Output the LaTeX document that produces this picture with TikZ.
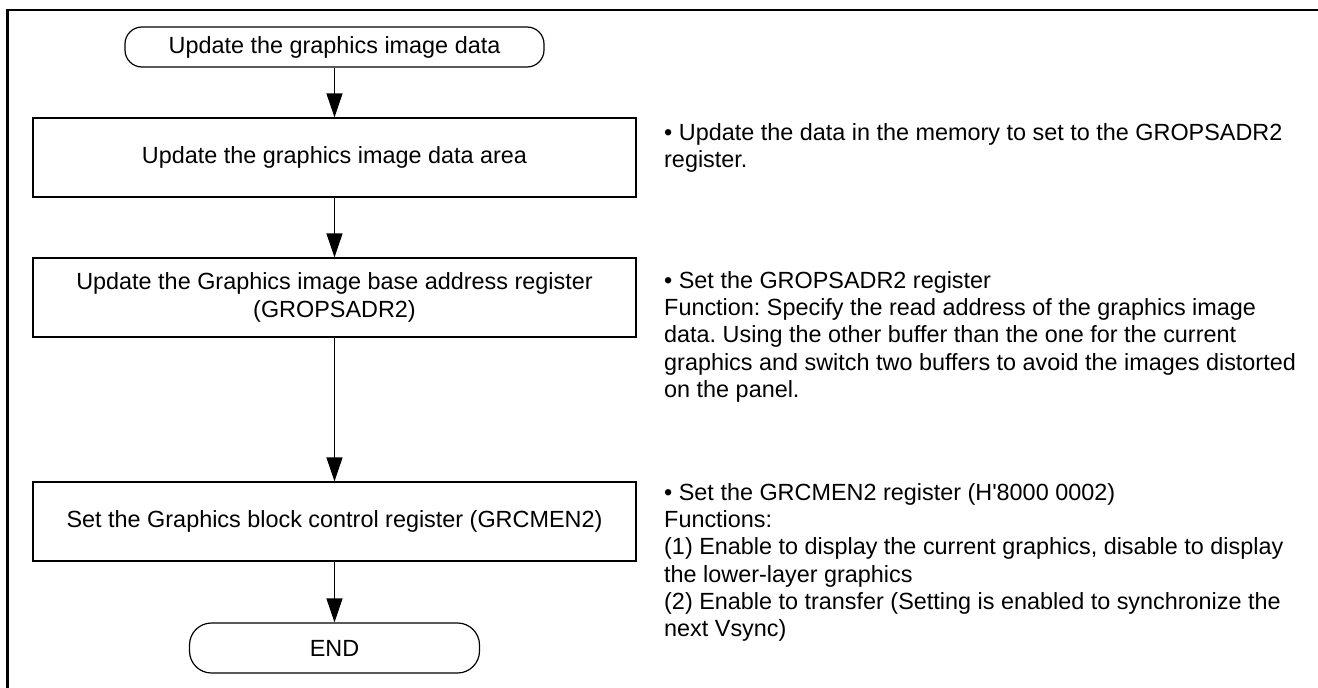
\documentclass[tikz,border=0pt]{standalone}
\usepackage{fontspec}
\setmainfont{Liberation Sans}
\frenchspacing
\usetikzlibrary{arrows.meta}
\begin{document}
\begin{tikzpicture}[x=1pt,y=-1pt,
  txt/.style={font={\fontsize{23.4}{27.3}\selectfont\frenchspacing}},
  stepbox/.style={draw, line width=1.2pt, rectangle, minimum width=603pt, minimum height=79pt, inner sep=0pt, align=center, txt},
  term/.style={draw, line width=1.2pt, rectangle, inner sep=0pt, txt},
  note/.style={anchor=north west, inner sep=0pt, align=left, txt},
  arr/.style={line width=1.2pt, -{Triangle[length=24pt,width=16pt]}},
  frame/.style={line width=2.7pt}
]
\useasboundingbox (0,0) rectangle (1318,688);
\draw[frame] (7.3,690) -- (7.3,10) -- (1320,10);

\node[term, rounded corners=17pt, minimum width=419pt, minimum height=40pt] (start) at (334.5,47) {Update the graphics image data};
\node[stepbox] (b1) at (334.5,157.5) {Update the graphics image data area};
\node[stepbox] (b2) at (334.5,297.5) {Update the Graphics image base address register\\(GROPSADR2)};
\node[stepbox] (b3) at (334.5,521.5) {Set the Graphics block control register (GRCMEN2)};
\node[term, rounded corners=22pt, minimum width=290pt, minimum height=50pt] (end) at (334.5,648) {END};

\draw[arr] (start) -- (b1);
\draw[arr] (b1) -- (b2);
\draw[arr] (b2) -- (b3);
\draw[arr] (b3) -- (end);

\node[note] (n1) at (664,120) {\rule{0pt}{20pt}• Update the data in the memory to set to the GROPSADR2\\register.};
\node[note] (n2) at (664,268) {\rule{0pt}{20pt}• Set the GROPSADR2 register\\Function: Specify the read address of the graphics image\\data. Using the other buffer than the one for the current\\graphics and switch two buffers to avoid the images distorted\\on the panel.};
\node[note] (n3) at (664,480) {\rule{0pt}{20pt}• Set the GRCMEN2 register (H\textquotesingle 8000 0002)\\Functions:\\(1) Enable to display the current graphics, disable to display\\the lower-layer graphics\\(2) Enable to transfer (Setting is enabled to synchronize the\\next Vsync)};
\end{tikzpicture}
\end{document}
